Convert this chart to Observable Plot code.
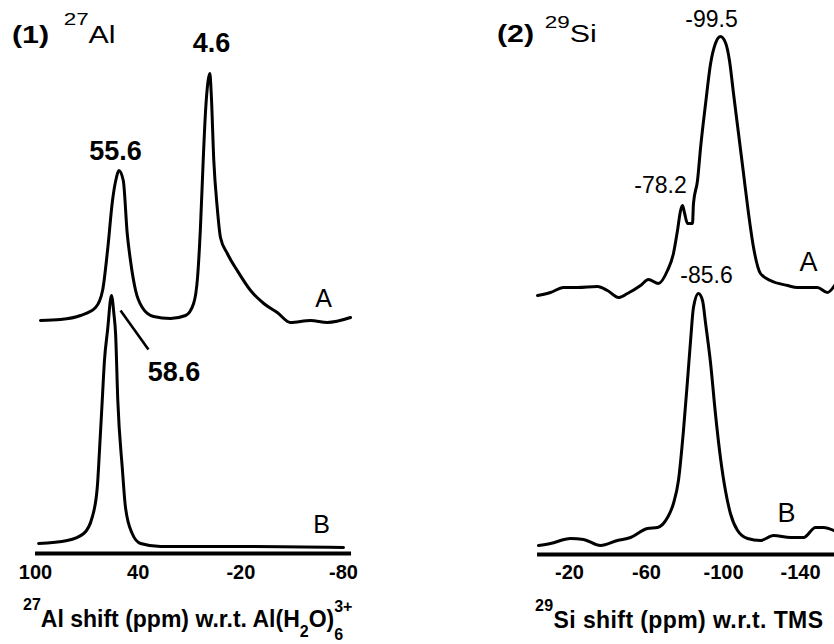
<!DOCTYPE html>
<html>
<head>
<meta charset="utf-8">
<script src="https://cdn.jsdelivr.net/npm/d3@7"></script>
<script src="https://cdn.jsdelivr.net/npm/@observablehq/plot@0.6"></script>
<style>
  html, body { margin: 0; padding: 0; background: #fff; overflow: hidden; }
  #fig { position: relative; width: 834px; height: 644px; overflow: hidden;
         font-family: "Liberation Sans", Arial, sans-serif; color: #000; }
  .panel { position: absolute; top: 0; }
  .ttl { position: absolute; font-size: 23px; line-height: 23px; white-space: nowrap;
         transform: scaleX(1.32); transform-origin: 0 0; }
  .xl { position: absolute; font-size: 23px; line-height: 23px; font-weight: bold; white-space: nowrap; }
  .up { position: relative; }
</style>
</head>
<body>
<div id="fig"></div>
<script>
// ---------- (1) 27Al spectra ----------
const alTicks = [100, 40, -20, -80];
const alAxisExtent = [100, -84.7];
const alOffsetA = 47;
const alOffsetB = 1.4;
const alPpmA = [97.1, 85.4, 73.7, 64.9, 60.8, 57.9, 55.0, 52.7, 51.3, 48.7, 46.4, 44.5, 41.5, 37.6, 31.0, 21.1, 12.3, 7.6, 5.3, 3.6, 2.0, 0.6, -0.9, -1.9, -2.7, -4.2, -6.2, -8.1, -12.1, -17.9, -25.7, -33.4, -41.3, -49.0, -60.7, -70.5, -84.1];
const alIntA = [-0.4, -0.2, 0.6, 2.2, 5.6, 13.6, 23.6, 28.2, 29.6, 27.6, 17.0, 11.6, 5.6, 2.2, 0.4, 0, 0.6, 3.0, 8.2, 18.2, 31.6, 41.6, 47.6, 49.0, 45.0, 31.6, 22.2, 16.2, 13.0, 9.6, 5.6, 3.0, 1.2, -0.8, -0.4, -0.8, 0.2];
const alPpmB = [98.2, 81.5, 71.8, 66.9, 63.9, 62.6, 61.0, 59.7, 57.9, 55.6, 54.2, 53.2, 51.9, 49.3, 47.4, 43.5, 38.6, 26.9, -25.7, -80.0];
const alIntB = [0.6, 1.2, 2.6, 5.8, 11.8, 19.2, 29.2, 37.2, 43.2, 50.2, 46.6, 42.6, 29.2, 15.8, 7.8, 2.6, 0.6, 0, 0, -0.2];
const alPeakText = ["55.6", "4.6", "58.6"];
const alPeakPpm = [53.2, -2.9, 19.0];
const alPeakY = [80.4, 102, 36.2];
const alNames = ["A", "B"];
const alNamePpm = [-68.3, -67.2];
const alNameY = [51, 5.8];
const alLeaderPpm = [50.3, 34.0];
const alLeaderY = [48.6, 40.8];

// ---------- (2) 29Si spectra ----------
const siTicks = [-20, -60, -100, -140];
const siAxisExtent = [-3.4, -160];
const siOffsetA = 53.4;
const siOffsetB = 2.8;
const siPpmA = [-3.4, -10.1, -16.9, -24.2, -34.5, -39.7, -45.5, -50.1, -56.9, -61.0, -66.2, -70.9, -74.0, -76.1, -77.7, -78.7, -79.7, -81.3, -83.9, -84.4, -86.5, -88.1, -90.7, -93.3, -95.8, -98.4, -101.0, -103.1, -105.2, -107.8, -110.4, -113.0, -115.6, -119.2, -124.4, -133.3, -138.4, -148.8, -154.0, -157.7];
const siIntA = [-1.6, -1.0, 0, 0, 0.2, -0.6, -2.0, -1.2, 0.4, 1.6, 0.8, 3.4, 6.8, 11.4, 15.4, 16.4, 15.0, 12.8, 12.8, 16.8, 21.4, 28.0, 36.8, 44.8, 48.8, 50.2, 49.0, 45.4, 38.8, 30.8, 22.8, 14.8, 8.0, 2.8, 1.4, 0.4, 0, 0, -1.0, 0.4];
const siPpmB = [-3.9, -10.1, -20.5, -27.3, -36.1, -44.9, -51.7, -60.5, -65.7, -70.9, -74.0, -76.6, -79.2, -81.3, -82.9, -84.4, -87.0, -89.1, -90.7, -93.3, -95.8, -98.4, -101.0, -103.6, -107.3, -112.5, -119.2, -126.0, -134.8, -141.6, -147.8, -152.0, -157.2];
const siIntB = [-1.0, -0.6, 0.4, 0.2, -1.0, 0, 0.6, 2.4, 2.6, 4.6, 7.4, 12.0, 22.0, 32.0, 40.0, 46.6, 49.4, 48.0, 43.4, 35.4, 25.4, 16.6, 10.0, 5.4, 2.0, 0.4, 0, 1.0, 0.6, 0.6, 2.6, 2.6, 2.0];
const siPeakText = ["-99.5", "-78.2", "-85.6"];
const siPeakPpm = [-93.8, -67.3, -91.2];
const siPeakY = [107, 73.8, 55.8];
const siNames = ["A", "B"];
const siNamePpm = [-144.2, -132.7];
const siNameY = [58.4, 8.2];

// ---------- helpers ----------
function trace(name, ppm, intensity, offset) {
  return ppm.map((p, i) => ({trace: name, ppm: p, y: offset + intensity[i]}));
}
function zip3(a, b, c) { return a.map((v, i) => ({x: b[i], y: c[i], t: v})); }

function panel(o) {
  const lines = [...trace("A", o.ppmA, o.intA, o.offA), ...trace("B", o.ppmB, o.intB, o.offB)];
  const marks = [
    Plot.ruleY([0], {x1: o.axisExtent[0], x2: o.axisExtent[1], stroke: "#000", strokeWidth: 4}),
    Plot.line(lines, {x: "ppm", y: "y", z: "trace", stroke: "#000", strokeWidth: 3,
                      strokeLinejoin: "round", curve: "monotone-x"}),
    Plot.axisX(o.ticks, {tickSize: 0, tickPadding: o.tickPadding, tickFormat: d => String(d),
                         fontSize: 20, fontWeight: "bold", label: null}),
    Plot.text(zip3(o.peakText, o.peakPpm, o.peakY), {x: "x", y: "y", text: "t",
              fontSize: o.peakFont, fontWeight: o.peakWeight, textAnchor: "middle", lineAnchor: "middle"}),
    Plot.text(zip3(o.names, o.namePpm, o.nameY), {x: "x", y: "y", text: "t",
              fontSize: o.nameFont, textAnchor: "middle", lineAnchor: "middle"})
  ];
  if (o.leaderPpm) {
    marks.push(Plot.link([{x1: o.leaderPpm[0], x2: o.leaderPpm[1], y1: o.leaderY[0], y2: o.leaderY[1]}],
      {x1: "x1", x2: "x2", y1: "y1", y2: "y2", stroke: "#000", strokeWidth: 2.6}));
  }
  return Plot.plot({
    width: 417, height: 644,
    marginTop: 0, marginBottom: o.marginBottom, marginLeft: 0, marginRight: 0,
    x: {domain: o.domain, range: o.range, axis: null, label: null},
    y: {domain: [0, (644 - o.marginBottom) / 5], axis: null},
    style: {fontFamily: "'Liberation Sans', Arial, sans-serif", background: "transparent", overflow: "visible", color: "#000"},
    marks
  });
}

const fig = document.getElementById("fig");

const p1 = panel({
  ticks: alTicks, axisExtent: alAxisExtent, domain: [100, -80], range: [35, 343],
  marginBottom: 91, tickPadding: 11,
  ppmA: alPpmA, intA: alIntA, offA: alOffsetA, ppmB: alPpmB, intB: alIntB, offB: alOffsetB,
  peakText: alPeakText, peakPpm: alPeakPpm, peakY: alPeakY, peakFont: 27, peakWeight: "bold",
  names: alNames, namePpm: alNamePpm, nameY: alNameY, nameFont: 25,
  leaderPpm: alLeaderPpm, leaderY: alLeaderY
});
p1.classList.add("panel"); p1.style.left = "0px";
fig.appendChild(p1);

const p2 = panel({
  ticks: siTicks, axisExtent: siAxisExtent, domain: [-20, -140], range: [152, 383],
  marginBottom: 90, tickPadding: 10,
  ppmA: siPpmA, intA: siIntA, offA: siOffsetA, ppmB: siPpmB, intB: siIntB, offB: siOffsetB,
  peakText: siPeakText, peakPpm: siPeakPpm, peakY: siPeakY, peakFont: 23, peakWeight: "normal",
  names: siNames, namePpm: siNamePpm, nameY: siNameY, nameFont: 27
});
p2.classList.add("panel"); p2.style.left = "417px";
fig.appendChild(p2);

// ---------- titles and axis labels (HTML text) ----------
function addDiv(cls, left, top, html, extra) {
  const d = document.createElement("div");
  d.className = cls; d.style.left = left + "px"; d.style.top = top + "px";
  if (extra) Object.assign(d.style, extra);
  d.innerHTML = html; fig.appendChild(d);
}
addDiv("ttl", 12, 24, '<b>(1)</b><span class="up" style="font-size:17px;top:-18px;margin-left:11px">27</span>Al');
addDiv("ttl", 497, 23, '<b>(2)</b><span class="up" style="font-size:17px;top:-14px;margin-left:8px">29</span>Si');
addDiv("xl", 23, 608, '<span class="up" style="font-size:16px;top:-17px">27</span>Al shift (ppm) w.r.t. Al(H<span class="up" style="font-size:16px;top:10px">2</span>O)<span class="up" style="font-size:16px;top:13px">6</span><span class="up" style="font-size:16px;top:-15px;margin-left:-9px">3+</span>');
addDiv("xl", 535, 609, '<span class="up" style="font-size:16px;top:-17px">29</span>Si shift (ppm) w.r.t. TMS', {letterSpacing: "0.4px"});
</script>
</body>
</html>
